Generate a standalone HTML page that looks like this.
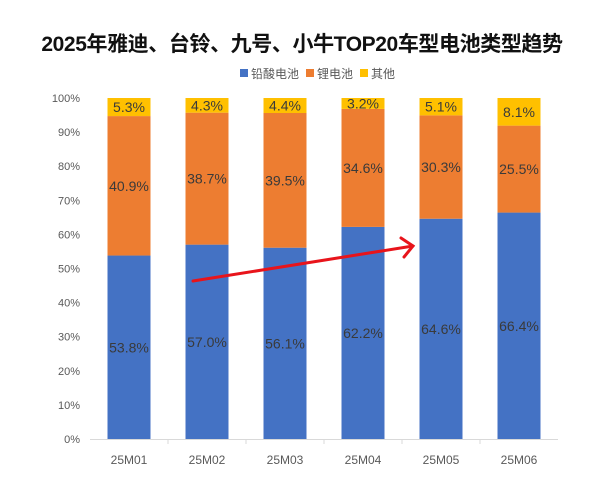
<!DOCTYPE html>
<html><head><meta charset="utf-8">
<style>
html,body{margin:0;padding:0;background:#fff;}
body{width:600px;height:498px;overflow:hidden;font-family:"Liberation Sans","Noto Sans CJK SC",sans-serif;}
</style></head>
<body>
<svg id="chart" width="600" height="498" xmlns="http://www.w3.org/2000/svg" font-family="Liberation Sans, Noto Sans CJK SC, sans-serif">
<text x="302" y="51" text-anchor="middle" font-size="21" font-weight="bold" fill="#111" letter-spacing="-0.4">2025年雅迪、台铃、九号、小牛TOP20车型电池类型趋势</text>
<g id="legend" font-size="13" fill="#595959"></g>
<g id="yaxis"></g>
<g id="bars"></g>
<g id="xaxis"></g>
<g stroke="#e8141b" stroke-width="3" fill="none" stroke-linecap="round">
<line x1="193" y1="281" x2="413" y2="246"/>
<polyline points="401,238 413,246 404,257"/>
</g>
</svg>
<script>
const categories=["25M01","25M02","25M03","25M04","25M05","25M06"];
const leadAcid=[53.8,57.0,56.1,62.2,64.6,66.4];
const lithium=[40.9,38.7,39.5,34.6,30.3,25.5];
const other=[5.3,4.3,4.4,3.2,5.1,8.1];
const seriesNames=["铅酸电池","锂电池","其他"];
const yTicks=[0,10,20,30,40,50,60,70,80,90,100];
const colors=["#4472C4","#ED7D31","#FFC000"];
const NS="http://www.w3.org/2000/svg";
const y0=439,y100=98,xStart=90,pitch=78,barW=43;
function yScale(v){return y0-(y0-y100)*v/100;}
function xCenter(i){return xStart+pitch*(i+0.5);}
function mk(tag,attrs,parent){const e=document.createElementNS(NS,tag);for(const k in attrs)e.setAttribute(k,attrs[k]);parent.appendChild(e);return e;}
const yaxis=document.getElementById('yaxis');
yTicks.forEach(t=>{const tx=mk('text',{x:80,y:yScale(t)+4,'text-anchor':'end','font-size':11,fill:'#595959'},yaxis);


tx.textContent=t+'%';});
const xaxis=document.getElementById('xaxis');
const ax=mk('line',{x1:xStart,y1:y0+0.5,x2:xStart+pitch*categories.length,y2:y0+0.5,stroke:'#d9d9d9','stroke-width':1},xaxis);


const bars=document.getElementById('bars');
const series=[leadAcid,lithium,other];
categories.forEach((c,i)=>{
  if(i>0){const tk=mk('line',{x1:xStart+pitch*i,y1:y0,x2:xStart+pitch*i,y2:y0+5,stroke:'#d9d9d9'},xaxis);
  
  }
  const lb=mk('text',{x:xCenter(i),y:y0+25,'text-anchor':'middle','font-size':12,fill:'#595959'},xaxis);
  
  
  lb.textContent=c;
  let cum=0;
  series.forEach((s,k)=>{
    const v=s[i];const top=yScale(Math.min(100,cum+v));const bot=yScale(cum);
    const r=mk('rect',{x:xCenter(i)-barW/2,y:top,width:barW,height:bot-top,fill:colors[k]},bars);
    
    
    const t=mk('text',{x:xCenter(i),y:(top+bot)/2+5,'text-anchor':'middle','font-size':14,fill:'#3a3a3a'},bars);
    
    
    t.textContent=v.toFixed(1)+'%';
    cum+=v;
  });
});
const legend=document.getElementById('legend');
let lx=240;
const widths=[66,54,40];
seriesNames.forEach((n,k)=>{
  const sq=mk('rect',{x:lx,y:69,width:8,height:8,fill:colors[k]},legend);
  
  
  const t=mk('text',{x:lx+11,y:78,'font-size':12,fill:'#595959'},legend);
  
  
  t.textContent=n;
  lx+=widths[k];
});
</script>
</body></html>
